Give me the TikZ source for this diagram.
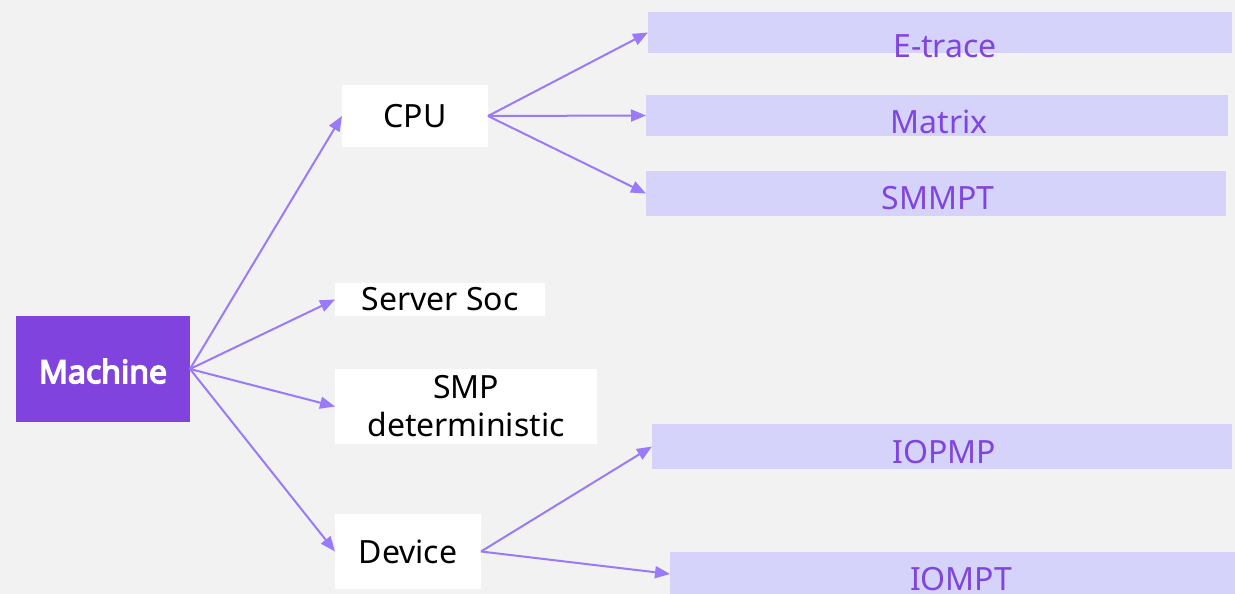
\documentclass[tikz,border=0pt]{standalone}
\usepackage{fontspec}
\setmainfont{Noto Sans}
\newfontfamily\rootfont{Noto Sans}[AutoFakeBold=4.5]
\usetikzlibrary{arrows.meta}
\definecolor{bgcol}{HTML}{F2F2F2}
\definecolor{rootcol}{HTML}{8043DD}
\definecolor{leafcol}{HTML}{D6D3FA}
\definecolor{leaftxt}{HTML}{8044E0}
\definecolor{linkcol}{HTML}{9A7AF8}
\tikzset{
  base/.style={inner sep=0pt, outer sep=0pt, font=\fontsize{32}{38}\selectfont},
  rootbox/.style={base, anchor=north west, fill=rootcol, text=white, font=\rootfont\fontsize{32}{38}\selectfont\bfseries},
  midbox/.style={base, anchor=north west, fill=white, text=black, align=center},
  leafbox/.style={base, anchor=north west, fill=leafcol},
  leaflabel/.style={base, anchor=base, text=leaftxt},
  link/.style={draw=linkcol, line width=2pt, -{Triangle[length=15pt,width=12pt]}}
}
\begin{document}
\begin{tikzpicture}[x=1pt,y=-1pt]
  \fill[bgcol] (0,0) rectangle (1235,594);
  \useasboundingbox (0,0) rectangle (1235,594);

  % root
  \node[rootbox, minimum width=174pt, minimum height=106pt, text depth=0pt] (machine) at (16,316) {\raisebox{-4pt}{Machine}\hspace{14pt}};

  % second level
  \node[midbox, minimum width=146pt, minimum height=62pt] (cpu) at (342,85) {CPU};
  \node[midbox, minimum width=210pt, minimum height=33pt] (soc) at (335,283) {Server Soc};
  \node[midbox, minimum width=262pt, minimum height=75pt] (smp) at (335,369) {SMP\\deterministic};
  \node[midbox, minimum width=146pt, minimum height=75pt] (dev) at (335,514) {Device};

  % third level boxes
  \node[leafbox, minimum width=584pt, minimum height=41pt] (etrace) at (648,12) {};
  \node[leafbox, minimum width=582pt, minimum height=41pt] (matrix) at (646,95) {};
  \node[leafbox, minimum width=580pt, minimum height=45pt] (smmpt) at (646,171) {};
  \node[leafbox, minimum width=580pt, minimum height=45pt] (iopmp) at (652,424) {};
  \node[leafbox, minimum width=580pt, minimum height=44pt] (iompt) at (670,552) {};

  % third level labels
  \node[leaflabel] (etraceT) at (945,58) {E-trace};
  \node[leaflabel] (matrixT) at (939,133) {Matrix};
  \node[leaflabel] (smmptT) at (938,209) {SMMPT};
  \node[leaflabel] (iopmpT) at (944,463) {IOPMP};
  \node[leaflabel] (iomptT) at (961,590) {IOMPT};

  % connectors
  \draw[link] (machine.east) -- (cpu.west);
  \draw[link] (machine.east) -- (soc.west);
  \draw[link] (machine.east) -- (smp.west);
  \draw[link] (machine.east) -- (dev.west);
  \draw[link] (cpu.east) -- (etrace.west);
  \draw[link] (cpu.east) -- (matrix.west);
  \draw[link] (cpu.east) -- (smmpt.west);
  \draw[link] (dev.east) -- (iopmp.west);
  \draw[link] (dev.east) -- (iompt.west);
\end{tikzpicture}
\end{document}
